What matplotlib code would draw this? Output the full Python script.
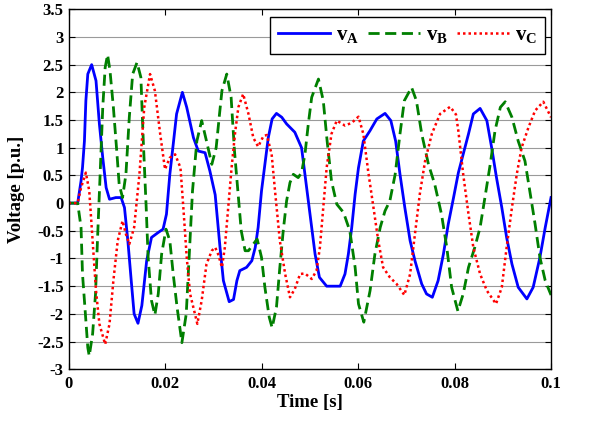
import matplotlib
matplotlib.use("Agg")
import numpy as np
import matplotlib.pyplot as plt

# dados (tempo em ms, tensão em p.u.)
t_a = [0, 1.9, 2.6, 2.9, 3.3, 3.6, 4.0, 4.8, 5.7, 6.4, 7.1, 7.8, 8.5, 9.8, 10.9, 11.6,
       12.3, 13.0, 13.6, 14.4, 15.2, 16.2, 17.2, 18.6, 19.6, 20.3, 21.0, 21.7, 22.4, 23.6,
       24.5, 25.9, 26.9, 28.3, 29.3, 30.4, 31.4, 32.1, 33.3, 34.2, 34.9, 35.5, 36.9, 38.0,
       38.7, 39.3, 40.0, 40.7, 41.4, 42.2, 43.1, 44.2, 45.2, 46.9, 48.3, 49.0, 49.7, 50.4,
       51.1, 52.0, 53.5, 56.3, 57.3, 58.0, 58.7, 59.4, 60.1, 61.1, 62.5, 63.9, 65.6, 66.8,
       67.8, 68.7, 69.7, 70.8, 71.8, 73.2, 74.2, 75.4, 76.6, 77.7, 78.7, 79.8, 80.8, 82.9,
       83.9, 85.3, 86.7, 87.7, 88.7, 89.8, 90.8, 91.9, 93.2, 95.0, 96.3, 97.7, 98.8, 100]
v_a = [0, 0, 0.4, 0.64, 1.12, 1.85, 2.33, 2.50, 2.21, 1.43, 0.82, 0.28, 0.07, 0.10, 0.10,
       -0.08, -0.68, -1.40, -2.0, -2.17, -1.85, -1.04, -0.62, -0.53, -0.47, -0.2, 0.52, 1.06,
       1.61, 2.0, 1.73, 1.18, 0.94, 0.91, 0.58, 0.15, -0.8, -1.40, -1.78, -1.74, -1.40,
       -1.22, -1.16, -1.04, -0.80, -0.44, 0.22, 0.70, 1.18, 1.52, 1.62, 1.55, 1.43, 1.28,
       1.0, 0.52, 0.04, -0.44, -0.92, -1.34, -1.5, -1.5, -1.28, -0.92, -0.44, 0.16, 0.64,
       1.12, 1.31, 1.52, 1.62, 1.49, 1.12, 0.52, -0.08, -0.68, -1.04, -1.46, -1.64, -1.70,
       -1.40, -0.92, -0.38, 0.1, 0.55, 1.25, 1.61, 1.71, 1.49, 1.0, 0.46, -0.08, -0.62,
       -1.10, -1.52, -1.73, -1.52, -0.98, -0.44, 0.1]

t_b = [0, 1.9, 2.6, 2.9, 3.5, 4.0, 4.3, 5.0, 5.6, 6.0, 6.5, 7.1, 7.6, 8.1, 8.6, 9.3, 10.0,
       10.5, 11.2, 11.9, 12.6, 13.3, 14.2, 15.0, 15.5, 16.1, 16.5, 17.2, 17.9, 18.6, 19.3,
       20.2, 21.0, 21.7, 22.5, 23.5, 24.4, 25.0, 25.7, 26.6, 27.6, 28.6, 29.7, 30.6, 31.3,
       31.8, 32.8, 33.7, 34.4, 35.1, 35.8, 36.6, 37.3, 38.3, 39.1, 40.0, 40.7, 41.6, 42.2,
       43.1, 43.8, 44.5, 45.2, 45.9, 46.6, 47.6, 48.3, 49.0, 49.7, 50.4, 51.8, 52.8, 53.6,
       54.5, 55.6, 57.0, 58.3, 59.4, 60.1, 61.2, 62.5, 63.5, 64.6, 65.6, 66.6, 67.7, 68.7,
       69.6, 71.1, 72.1, 73.2, 74.6, 75.9, 77.3, 78.4, 79.4, 80.7, 81.8, 82.9, 84.2, 85.3,
       86.3, 87.4, 88.4, 89.5, 90.5, 91.9, 93.2, 94.6, 95.6, 96.7, 97.7, 98.8, 100]
v_b = [0, 0, -0.44, -1.28, -2.0, -2.61, -2.76, -2.36, -1.64, -0.68, 0.4, 1.73, 2.45, 2.68,
       2.39, 1.73, 0.94, 0.34, 0.10, 0.52, 1.55, 2.33, 2.54, 2.27, 1.12, -0.08, -0.98,
       -1.76, -2.02, -1.64, -0.92, -0.47, -0.68, -1.28, -1.88, -2.52, -2.0, -0.98, 0.22,
       1.12, 1.49, 1.12, 0.70, 1.0, 1.61, 2.03, 2.33, 1.91, 0.94, 0.22, -0.5, -0.86, -0.86,
       -0.74, -0.65, -0.98, -1.52, -2.06, -2.25, -1.88, -1.16, -0.5, 0.04, 0.37, 0.52, 0.46,
       0.55, 0.88, 1.43, 1.91, 2.24, 1.85, 1.12, 0.40, -0.02, -0.17, -0.5, -1.16, -1.82,
       -2.15, -1.58, -0.92, -0.44, -0.14, 0.04, 0.52, 1.25, 1.85, 2.09, 1.85, 1.25, 0.70,
       0.34, -0.2, -0.80, -1.52, -1.95, -1.64, -1.16, -0.80, -0.44, 0.10, 0.70, 1.31, 1.73,
       1.83, 1.55, 1.12, 0.76, 0.22, -0.38, -0.98, -1.40, -1.66]

t_c = [0, 1.9, 2.6, 3.6, 4.3, 5.0, 5.7, 6.4, 7.6, 8.5, 9.3, 10.2, 11.2, 11.9, 12.6, 13.6,
       14.7, 15.7, 16.9, 17.9, 19.0, 20.0, 21.0, 22.1, 23.2, 23.8, 24.5, 25.2, 26.7, 27.6,
       28.6, 29.7, 30.4, 31.0, 31.8, 32.4, 33.1, 33.8, 34.5, 35.2, 36.2, 37.3, 38.3, 39.3,
       40.4, 41.1, 42.1, 42.8, 43.8, 44.9, 45.9, 46.9, 48.0, 49.0, 50.4, 51.4, 52.1, 52.8,
       53.5, 54.5, 55.6, 57.3, 58.7, 60.1, 61.1, 62.1, 63.2, 64.2, 65.2, 66.6, 68.0, 69.6,
       70.8, 71.8, 72.8, 73.9, 75.3, 77.0, 79.1, 80.3, 80.8, 81.8, 82.9, 83.9, 85.3, 86.7,
       88.6, 89.8, 90.8, 91.9, 92.9, 93.9, 95.3, 96.7, 98.4, 100]
v_c = [0, 0, 0.28, 0.55, 0.22, -0.68, -1.58, -2.18, -2.55, -2.18, -1.40, -0.68, -0.32,
       -0.56, -0.74, -0.44, 0.52, 1.73, 2.33, 2.03, 1.25, 0.61, 0.82, 0.88, 0.64, -0.08,
       -0.98, -1.64, -2.18, -1.76, -1.10, -0.86, -0.80, -0.92, -1.16, -0.8, -0.08, 0.64,
       1.25, 1.73, 1.97, 1.61, 1.18, 1.02, 1.21, 1.23, 0.88, 0.22, -0.68, -1.28, -1.7,
       -1.55, -1.28, -1.27, -1.37, -1.22, -0.80, -0.08, 0.64, 1.25, 1.49, 1.40, 1.45, 1.56,
       1.25, 0.58, -0.08, -0.68, -1.16, -1.34, -1.46, -1.66, -1.28, -0.56, 0.16, 0.76, 1.25,
       1.61, 1.74, 1.6, 1.3, 0.52, -0.2, -0.80, -1.28, -1.58, -1.82, -1.52, -0.80, -0.08,
       0.52, 1.0, 1.36, 1.67, 1.83, 1.55]

x_ticks = [0, 0.02, 0.04, 0.06, 0.08, 0.1]
x_labels = ["0", "0.02", "0.04", "0.06", "0.08", "0.1"]
y_ticks = np.arange(-3, 3.51, 0.5)

plt.rcParams["font.family"] = "Liberation Serif"
plt.rcParams["font.weight"] = "bold"
plt.rcParams["mathtext.fontset"] = "custom"
plt.rcParams["mathtext.rm"] = "Liberation Serif:bold"
plt.rcParams["mathtext.it"] = "Liberation Serif:bold"
plt.rcParams["mathtext.bf"] = "Liberation Serif:bold"

fig = plt.figure(figsize=(6.03, 4.22), dpi=100)
ax = fig.add_axes([0.1136, 0.125, 0.8002, 0.853])

ax.plot(np.array(t_a) / 1000, v_a, color="#0000ff", lw=2.0, label=r"$\mathbf{v_A}$")
ax.plot(np.array(t_b) / 1000, v_b, color="#007f00", lw=2.0, ls=(0, (4, 2)),
        label=r"$\mathbf{v_B}$")
ax.plot(np.array(t_c) / 1000, v_c, color="#ff0000", lw=1.8, ls=(0, (1, 1.2)),
        label=r"$\mathbf{v_C}$")

ax.set_xlim(0, 0.1)
ax.set_ylim(-3, 3.5)
ax.set_xticks(x_ticks)
ax.set_xticklabels(x_labels)
ax.set_yticks(y_ticks)
ax.set_yticklabels(["%g" % y for y in y_ticks])
ax.yaxis.grid(True, color="#9a9a9a", lw=0.8)
ax.set_axisbelow(True)
ax.tick_params(direction="in", top=True, right=True, length=4, labelsize=12)
ax.tick_params(axis="x", pad=5)
for s in ax.spines.values():
    s.set_linewidth(1.0)

ax.set_xlabel("Time [s]", fontsize=13.5, fontweight="bold", labelpad=1)
ax.set_ylabel("Voltage [p.u.]", fontsize=13.5, fontweight="bold", labelpad=9)

leg = ax.legend(loc="upper right", bbox_to_anchor=(0.988, 0.979), borderaxespad=0,
                ncol=3, fontsize=15, handlelength=2.5, columnspacing=0.4,
                handletextpad=0.3, borderpad=0.4, fancybox=False, framealpha=1,
                edgecolor="black")
leg.get_frame().set_linewidth(1.0)

plt.savefig("out.png", dpi=100)
